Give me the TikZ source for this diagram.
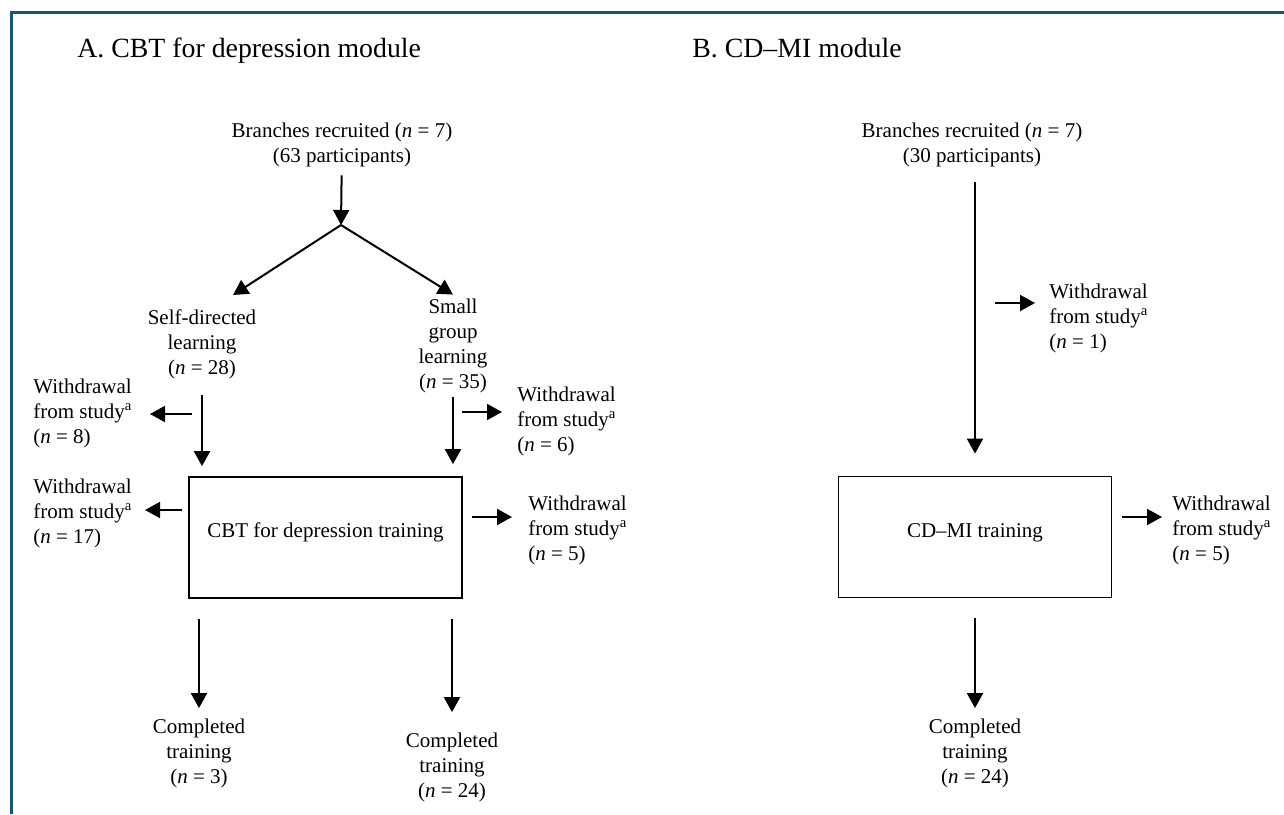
\documentclass[tikz,border=0pt]{standalone}
\usepackage{fontspec}
\setmainfont{Liberation Serif}
\usetikzlibrary{
    arrows.meta,
    positioning,
    calc
}
\definecolor{framecol}{RGB}{24,86,108}
\newcommand{\bodysize}{\fontsize{10.5pt}{12.5pt}\selectfont}
\newcommand{\titlesize}{\fontsize{13.9pt}{16pt}\selectfont}
\newcommand{\withdrawn}[1]{Withdrawal\\from study\textsuperscript{a}\\(\textit{n} = #1)}
\tikzset{
    % --- Panel heading ---
    panel title/.style = {
        font=\titlesize, anchor=base west, inner sep=0pt
    },
    % --- Centred flow text (no border) ---
    flow text/.style = {
        font=\bodysize, align=center, inner sep=2pt
    },
    % --- Withdrawal note, left aligned ---
    withdraw note/.style = {
        font=\bodysize, align=left, inner sep=2pt, anchor=west
    },
    % --- Training box ---
    train box/.style = {
        rectangle, draw, line width=0.9pt,
        minimum width=136.5pt, minimum height=60.5pt,
        text height=7pt, text depth=7pt,
        font=\bodysize
    },
    % --- Flow arrow ---
    flow arrow/.style = {
        -{Triangle[length=7.5pt, width=8pt]}, line width=1pt
    },
    % --- Outer frame line ---
    frame line/.style = {
        draw=framecol, line width=1.5pt
    }
}
\begin{document}
\begin{tikzpicture}[x=0.5pt, y=-0.5pt]
\useasboundingbox (0,0) rectangle (1284,814);

% Frame (top and left only)
\draw[frame line] (11,814) -- (11,12) -- (1284,12);

% ---------------------------------------------------------
% Panel A: CBT for depression module
% ---------------------------------------------------------
\node[panel title] (titleA) at (77,57) {A. CBT for depression module};

\node[flow text] (branchA) at (342,145) {Branches recruited (\textit{n} = 7)\\(63 participants)};
\coordinate (splitA) at (341,225);
\coordinate (selfTip) at (233,295);

\node[flow text] (selfA) at (202,344) {Self-directed\\learning\\(\textit{n} = 28)};
\node[flow text] (smallA) at (453,346) {Small\\group\\learning\\(\textit{n} = 35)};

\draw[flow arrow, shorten <=2pt] (branchA) -- (splitA);
\draw[flow arrow] (splitA) -- (selfTip);
\draw[flow arrow] (splitA) -- (smallA.north);

% Withdrawals before training
\node[withdraw note] (wdA1) at (29,413) {\withdrawn{8}};
\node[withdraw note] (wdA2) at (513,421) {\withdrawn{6}};
\coordinate (wA1s) at (192,414);
\coordinate (wA1e) at (150,414);
\coordinate (wA2s) at (462,412);
\coordinate (wA2e) at (502,412);
\draw[flow arrow] (wA1s) -- (wA1e);
\draw[flow arrow] (wA2s) -- (wA2e);

% Training
\node[train box] (boxA) at (325.5,537.5) {CBT for depression training};

\draw[flow arrow, shorten <=6pt, shorten >=5pt] (selfA.south) -- (selfA.south |- boxA.north);
\draw[flow arrow, shorten >=6pt] (smallA.south) -- (smallA.south |- boxA.north);

% Withdrawals during training
\node[withdraw note] (wdA3) at (29,513) {\withdrawn{17}};
\node[withdraw note] (wdA4) at (524,530) {\withdrawn{5}};
\coordinate (wA3s) at (182,510);
\coordinate (wA3e) at (145,510);
\coordinate (wA4s) at (472,517);
\coordinate (wA4e) at (512,517);
\draw[flow arrow] (wA3s) -- (wA3e);
\draw[flow arrow] (wA4s) -- (wA4e);

% Completed
\node[flow text] (doneA1) at (199,753) {Completed\\training\\(\textit{n} = 3)};
\node[flow text] (doneA2) at (452,767) {Completed\\training\\(\textit{n} = 24)};
\draw[flow arrow, shorten <=10pt, shorten >=3pt] (boxA.south -| doneA1) -- (doneA1.north);
\draw[flow arrow, shorten <=10pt, shorten >=8pt] (boxA.south -| doneA2) -- (doneA2.north);

% ---------------------------------------------------------
% Panel B: CD-MI module
% ---------------------------------------------------------
\node[panel title] (titleB) at (692,57) {B. CD--MI module};

\node[flow text] (branchB) at (972,145) {Branches recruited (\textit{n} = 7)\\(30 participants)};
\node[train box] (boxB) at (975,537) {CD--MI training};
\draw[flow arrow, shorten <=5.5pt, shorten >=11pt] (branchB.south -| boxB) -- (boxB.north);

\node[withdraw note] (wdB1) at (1045,318) {\withdrawn{1}};
\coordinate (wB1s) at (995,303);
\coordinate (wB1e) at (1035,303);
\draw[flow arrow] (wB1s) -- (wB1e);

\node[withdraw note] (wdB2) at (1168,530) {\withdrawn{5}};
\coordinate (wB2s) at (1122,517);
\coordinate (wB2e) at (1162,517);
\draw[flow arrow] (wB2s) -- (wB2e);

\node[flow text] (doneB) at (975,753) {Completed\\training\\(\textit{n} = 24)};
\draw[flow arrow, shorten <=10pt, shorten >=3pt] (boxB.south) -- (doneB.north);

\end{tikzpicture}
\end{document}
